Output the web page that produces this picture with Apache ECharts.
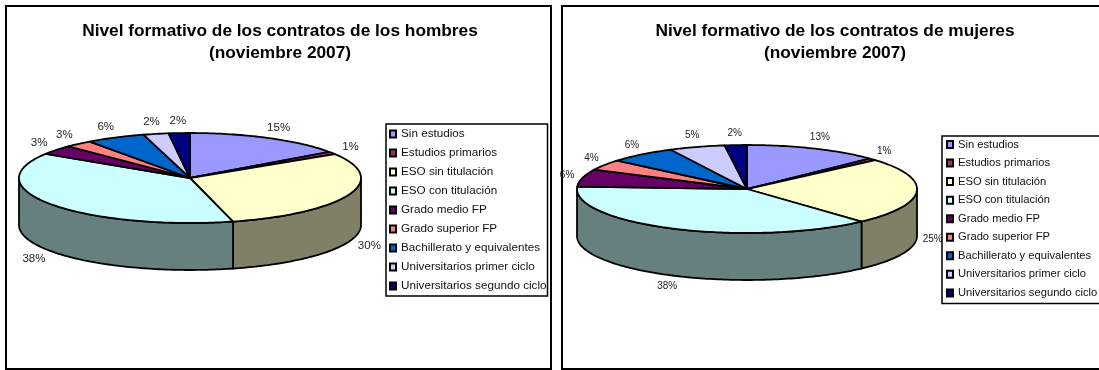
<!DOCTYPE html>
<html>
<head>
<meta charset="utf-8">
<style>
  html, body { margin: 0; padding: 0; background: #fff; overflow: hidden; }
  #chart { width: 1099px; height: 370px; }
</style>
<script src="https://cdn.jsdelivr.net/npm/echarts@6/dist/echarts.min.js"></script>
</head>
<body>
<div id="chart"></div>
<script>
const categories = [
  "Sin estudios",
  "Estudios primarios",
  "ESO sin titulación",
  "ESO con titulación",
  "Grado medio FP",
  "Grado superior FP",
  "Bachillerato y equivalentes",
  "Universitarios primer ciclo",
  "Universitarios segundo ciclo",
];
const colors = ["#9999FF", "#993366", "#FFFFCC", "#CCFFFF", "#660066", "#FF8080", "#0066CC", "#CCCCFF", "#000080"];
const sideColors = ["#4D4D80", "#4D1A33", "#808066", "#668080", "#330033", "#804040", "#003366", "#666680", "#000040"];

// %, the printed labels are these rounded
const hombres = [15.2, 0.9, 29.9, 38.1, 3.4, 2.6, 5.6, 2.4, 2.0];
const mujeres = [12.8, 0.8, 24.6, 37.6, 6.4, 3.9, 6.4, 5.3, 2.1];

const pies = [
  { values: hombres, cx: 190, cy: 178, rx: 171, ry: 45, depth: 47, labelDx: 22, labelDy: 12, fontSize: 11.5 },
  { values: mujeres, cx: 747, cy: 189, rx: 170, ry: 44, depth: 47, labelDx: 16, labelDy: 12, fontSize: 10 },
];

const chart = echarts.init(document.getElementById("chart"), null, { renderer: "canvas" });

function pointAt(pie, angle, drop) {
  return [pie.cx + pie.rx * Math.sin(angle), pie.cy - pie.ry * Math.cos(angle) + drop];
}

function arcPoints(pie, from, to, drop) {
  const steps = Math.max(2, Math.ceil(Math.abs(to - from) / 0.02));
  const points = [];
  for (let i = 0; i <= steps; i++) {
    points.push(pointAt(pie, from + ((to - from) * i) / steps, drop));
  }
  return points;
}

function sliceRenderer(pie, index) {
  const total = pie.values.reduce((a, b) => a + b, 0);
  const before = pie.values.slice(0, index).reduce((a, b) => a + b, 0);
  const start = (before / total) * Math.PI * 2;
  const end = ((before + pie.values[index]) / total) * Math.PI * 2;
  const lineStyle = { stroke: "#000", lineWidth: 1.8, lineJoin: "round" };

  return function (params, api) {
    const value = api.value(0);
    const children = [];

    // the wall only shows on the front half of the ellipse
    const wallFrom = Math.max(start, Math.PI / 2);
    const wallTo = Math.min(end, (Math.PI * 3) / 2);
    if (wallTo > wallFrom) {
      const top = arcPoints(pie, wallFrom, wallTo, 0);
      const bottom = arcPoints(pie, wallTo, wallFrom, pie.depth);
      children.push({
        type: "polygon",
        shape: { points: top.concat(bottom) },
        style: Object.assign({ fill: sideColors[index] }, lineStyle),
      });
    }

    children.push({
      type: "polygon",
      shape: { points: [[pie.cx, pie.cy]].concat(arcPoints(pie, start, end, 0)) },
      style: Object.assign({ fill: colors[index] }, lineStyle),
    });

    const mid = (start + end) / 2;
    const front = Math.cos(mid) < 0 && Math.abs(Math.sin(mid)) < 0.999;
    children.push({
      type: "text",
      style: {
        x: pie.cx + (pie.rx + pie.labelDx) * Math.sin(mid),
        y: pie.cy - (pie.ry + pie.labelDy) * Math.cos(mid) + (front ? pie.depth : 0),
        text: Math.round(value) + "%",
        fill: "#222",
        font: pie.fontSize + 'px "Liberation Sans"',
        align: "center",
        verticalAlign: "middle",
      },
    });

    return { type: "group", children };
  };
}

const series = [];
pies.forEach((pie) => {
  categories.forEach((name, index) => {
    series.push({
      type: "custom",
      name,
      coordinateSystem: "none",
      animation: false,
      silent: true,
      itemStyle: { color: colors[index], borderColor: "#000", borderWidth: 1.2 },
      data: [pie.values[index]],
      renderItem: sliceRenderer(pie, index),
    });
  });
});

function panel(x, width) {
  return {
    type: "rect",
    z: -10,
    shape: { x, y: 6, width, height: 363 },
    style: { fill: "#fff", stroke: "#000", lineWidth: 2 },
  };
}

function legend(left, top, fontSize, itemGap, padding) {
  return {
    orient: "vertical",
    left,
    top,
    data: categories,
    selectedMode: false,
    icon: "rect",
    itemWidth: 6,
    itemHeight: 7,
    itemGap,
    padding,
    backgroundColor: "#fff",
    borderColor: "#000",
    borderWidth: 1.5,
    borderRadius: 0,
    textStyle: { fontFamily: "Liberation Sans", fontSize, color: "#111", padding: 0 },
  };
}

function title(text, center) {
  return {
    text,
    left: center,
    top: 20,
    textAlign: "center",
    padding: 0,
    textStyle: { fontFamily: "Liberation Sans", fontWeight: "bold", fontSize: 17.3, lineHeight: 22, color: "#000" },
  };
}

chart.setOption({
  animation: false,
  backgroundColor: "#fff",
  title: [
    title("Nivel formativo de los contratos de los hombres\n(noviembre 2007)", 280),
    title("Nivel formativo de los contratos de mujeres\n(noviembre 2007)", 835),
  ],
  legend: [
    legend(386, 124, 11.7, 7, [4, 1, 4, 3]),
    legend(942, 136, 11.2, 7.55, [3, 3, 5, 4]),
  ],
  graphic: [panel(6, 545), panel(562, 545)],
  series,
});

window.addEventListener("resize", () => chart.resize());
</script>
</body>
</html>
